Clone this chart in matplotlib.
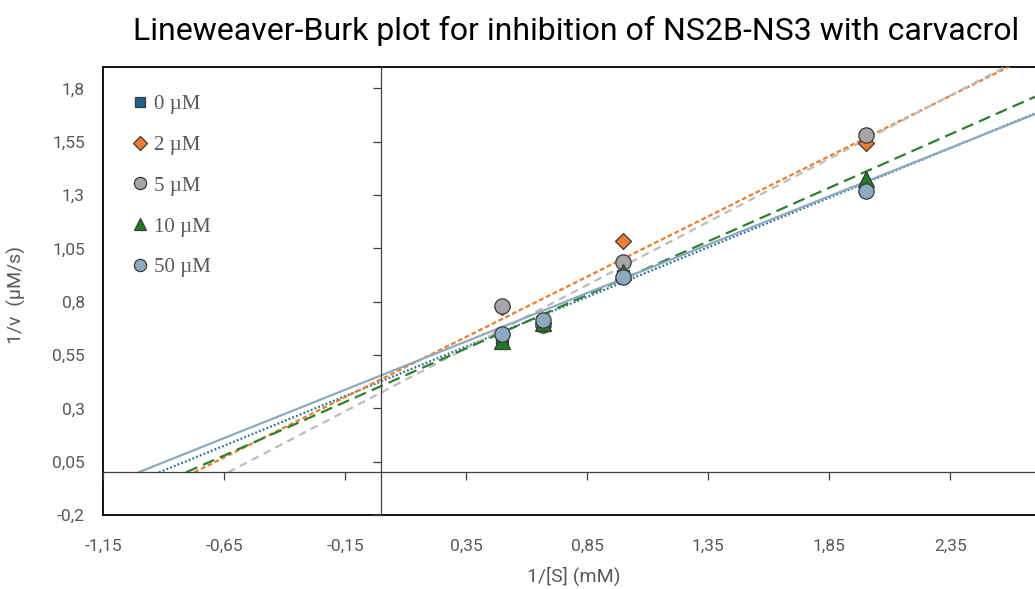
import matplotlib
matplotlib.use('Agg')
import numpy as np
import matplotlib.pyplot as plt
from matplotlib.ticker import FixedLocator, FuncFormatter

# 1/[S] values (mM^-1) shared by every series
inv_s = [0.5, 0.667, 1.0, 2.0]

# 1/v for each carvacrol concentration
labels = ['0 µM', '2 µM', '5 µM', '10 µM', '50 µM']
inv_v_0 = [0.63, 0.69, 0.92, 1.33]
inv_v_2 = [0.775, 0.70, 1.086, 1.545]
inv_v_5 = [0.781, 0.69, 0.985, 1.579]
inv_v_10 = [0.616, 0.70, 0.94, 1.376]
inv_v_50 = [0.648, 0.715, 0.915, 1.321]

# linear trendline parameters (1/v = slope * 1/[S] + intercept)
slopes = [0.465, 0.565, 0.592, 0.502, 0.4535]
intercepts = [0.427, 0.437, 0.375, 0.405, 0.455]

x_ticks = [-1.15, -0.65, -0.15, 0.35, 0.85, 1.35, 1.85, 2.35]
y_ticks = [-0.2, 0.05, 0.3, 0.55, 0.8, 1.05, 1.3, 1.55, 1.8]

series = [inv_v_0, inv_v_2, inv_v_5, inv_v_10, inv_v_50]
colors = ['#215F8C', '#ED7D31', '#A5A5A5', '#217A22', '#8DA9C0']
line_colors = ['#2A6A9A', '#ED7D31', '#BDBDBD', '#2E8030', '#8DA9C0']
markers = ['s', 'D', 'o', '^', 'o']
msizes = [8.5, 8.5, 11, 11, 11]
styles = [(0, (0.8, 1.0)), (0, (2.2, 1.2)), (0, (3.5, 2.5)), (0, (5.5, 2.8)), '-']

tick_font = ['Roboto', 'DejaVu Sans']
gray = '#595959'

XMIN, XMAX = -1.15, 2.70
YMIN, YMAX = -0.2, 1.9

fig = plt.figure(figsize=(10.35, 5.89), dpi=100)
rect = [103 / 1035, 74 / 589, 932 / 1035, 448 / 589]
ax = fig.add_axes(rect)

fmt = FuncFormatter(lambda v, p: ('%g' % round(v, 2)).replace('.', ','))

# outer frame carries the tick labels only
ax.set_xlim(XMIN, XMAX)
ax.set_ylim(YMIN, YMAX)
ax.xaxis.set_major_locator(FixedLocator(x_ticks))
ax.yaxis.set_major_locator(FixedLocator(y_ticks))
ax.xaxis.set_major_formatter(fmt)
ax.yaxis.set_major_formatter(fmt)
ax.tick_params(length=0, colors=gray, labelsize=12.5)
ax.tick_params(axis='x', pad=17)
ax.tick_params(axis='y', pad=13)
for lab in ax.get_xticklabels() + ax.get_yticklabels():
    lab.set_family(tick_font)
for side in ['left', 'top', 'bottom']:
    ax.spines[side].set_linewidth(1.3)
    ax.spines[side].set_color('black')
ax.spines['right'].set_visible(False)

# inner axes with spines through the origin, ticks without labels
ax2 = fig.add_axes(rect, facecolor='none')
ax2.set_xlim(XMIN, XMAX)
ax2.set_ylim(YMIN, YMAX)
ax2.xaxis.set_major_locator(FixedLocator(x_ticks))
ax2.yaxis.set_major_locator(FixedLocator(y_ticks))
ax2.spines['left'].set_position(('data', 0))
ax2.spines['bottom'].set_position(('data', 0))
ax2.spines['right'].set_visible(False)
ax2.spines['top'].set_visible(False)
for side in ['left', 'bottom']:
    ax2.spines[side].set_color('#404040')
    ax2.spines[side].set_linewidth(0.9)
ax2.tick_params(direction='out', length=6, width=0.9, color='#404040',
                labelleft=False, labelbottom=False)

# trendlines from the x-intercept to the right edge
for m, b, c, ls in zip(slopes, intercepts, line_colors, styles):
    xs = np.array([-b / m, 3.0])
    ax2.plot(xs, m * xs + b, color=c, linestyle=ls, linewidth=1.6,
             zorder=2)

handles = []
for vals, lab, c, mk, ms in zip(series, labels, colors, markers, msizes):
    h, = ax2.plot(inv_s, vals, linestyle='none', marker=mk, markersize=ms,
                  markerfacecolor=c, markeredgecolor='#3A3A3A',
                  markeredgewidth=0.9, label=lab, zorder=3, clip_on=False)
    handles.append(h)

leg = ax2.legend(handles=handles, loc='upper left',
                 bbox_to_anchor=(0.022, 0.962), frameon=False,
                 prop={'family': 'Liberation Serif', 'size': 15},
                 labelspacing=1.02, handlelength=0.6, handletextpad=0.35,
                 markerscale=0.8, borderpad=0)
for t in leg.get_texts():
    t.set_color(gray)

ax.set_ylabel('1/v  (µM/s)', family=tick_font, fontsize=14, color=gray)
ax.yaxis.set_label_coords(-0.083, 0.49)
ax.set_xlabel('1/[S] (mM)', family=tick_font, fontsize=14, color=gray)
ax.xaxis.set_label_coords(0.505, -0.115)

fig.text(0.557, 0.948,
         'Lineweaver-Burk plot for inhibition of NS2B-NS3 with carvacrol',
         ha='center', va='center', fontsize=23, family=tick_font,
         color='black')

fig.savefig('out.png', dpi=100)
